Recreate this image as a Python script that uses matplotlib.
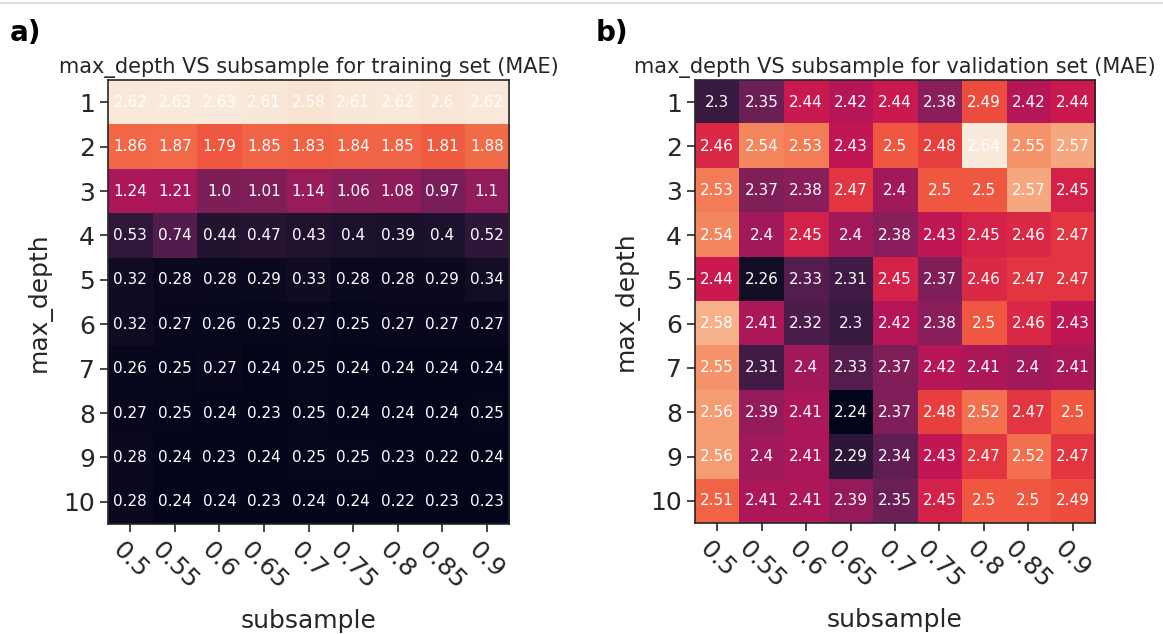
import matplotlib
matplotlib.use("Agg")
import matplotlib.pyplot as plt
from matplotlib.lines import Line2D
import numpy as np

try:
    import seaborn as sns
    CMAP = sns.color_palette("rocket", as_cmap=True)
except ImportError:
    CMAP = "magma"

plt.rcParams["font.family"] = ["DejaVu Sans"]

max_depth = [1, 2, 3, 4, 5, 6, 7, 8, 9, 10]
subsample = [0.5, 0.55, 0.6, 0.65, 0.7, 0.75, 0.8, 0.85, 0.9]

# MAE en entrenamiento (filas: max_depth, columnas: subsample)
mae_train = [
    [2.62, 2.63, 2.63, 2.61, 2.58, 2.61, 2.62, 2.6, 2.62],
    [1.86, 1.87, 1.79, 1.85, 1.83, 1.84, 1.85, 1.81, 1.88],
    [1.24, 1.21, 1.0, 1.01, 1.14, 1.06, 1.08, 0.97, 1.1],
    [0.53, 0.74, 0.44, 0.47, 0.43, 0.4, 0.39, 0.4, 0.52],
    [0.32, 0.28, 0.28, 0.29, 0.33, 0.28, 0.28, 0.29, 0.34],
    [0.32, 0.27, 0.26, 0.25, 0.27, 0.25, 0.27, 0.27, 0.27],
    [0.26, 0.25, 0.27, 0.24, 0.25, 0.24, 0.24, 0.24, 0.24],
    [0.27, 0.25, 0.24, 0.23, 0.25, 0.24, 0.24, 0.24, 0.25],
    [0.28, 0.24, 0.23, 0.24, 0.25, 0.25, 0.23, 0.22, 0.24],
    [0.28, 0.24, 0.24, 0.23, 0.24, 0.24, 0.22, 0.23, 0.23],
]

# MAE en validación
mae_val = [
    [2.3, 2.35, 2.44, 2.42, 2.44, 2.38, 2.49, 2.42, 2.44],
    [2.46, 2.54, 2.53, 2.43, 2.5, 2.48, 2.64, 2.55, 2.57],
    [2.53, 2.37, 2.38, 2.47, 2.4, 2.5, 2.5, 2.57, 2.45],
    [2.54, 2.4, 2.45, 2.4, 2.38, 2.43, 2.45, 2.46, 2.47],
    [2.44, 2.26, 2.33, 2.31, 2.45, 2.37, 2.46, 2.47, 2.47],
    [2.58, 2.41, 2.32, 2.3, 2.42, 2.38, 2.5, 2.46, 2.43],
    [2.55, 2.31, 2.4, 2.33, 2.37, 2.42, 2.41, 2.4, 2.41],
    [2.56, 2.39, 2.41, 2.24, 2.37, 2.48, 2.52, 2.47, 2.5],
    [2.56, 2.4, 2.41, 2.29, 2.34, 2.43, 2.47, 2.52, 2.47],
    [2.51, 2.41, 2.41, 2.39, 2.35, 2.45, 2.5, 2.5, 2.49],
]

TEXT = "#262626"


def draw_heatmap(ax, values, title):
    data = np.array(values, dtype=float)
    ax.imshow(data, cmap=CMAP, aspect="auto", interpolation="nearest")
    for i in range(data.shape[0]):
        for j in range(data.shape[1]):
            ax.text(j, i, str(values[i][j]), ha="center", va="center",
                    color="white", fontsize=11)
    ax.set_xticks(range(len(subsample)))
    ax.set_xticklabels([str(s) for s in subsample], rotation=-45)
    ax.set_yticks(range(len(max_depth)))
    ax.set_yticklabels([str(d) for d in max_depth])
    ax.tick_params(axis="both", labelsize=18, length=6, width=1.2,
                   color=TEXT, labelcolor=TEXT)
    for sp in ax.spines.values():
        sp.set_color(TEXT)
        sp.set_linewidth(1.2)
    ax.set_xlabel("subsample", fontsize=18, color=TEXT, labelpad=11)
    ax.set_ylabel("max_depth", fontsize=18, color=TEXT, labelpad=8)
    ax.set_title(title, fontsize=15, color=TEXT, pad=5)


fig = plt.figure(figsize=(11.63, 6.34), dpi=100)
ax1 = fig.add_axes([0.0929, 0.1735, 0.3448, 0.7003])
ax2 = fig.add_axes([0.5976, 0.1750, 0.3440, 0.6988])

draw_heatmap(ax1, mae_train, "max_depth VS subsample for training set (MAE)")
draw_heatmap(ax2, mae_val, "max_depth VS subsample for validation set (MAE)")

fig.text(0.008, 0.935, "a)", fontsize=20, fontweight="bold", color="black")
fig.text(0.512, 0.935, "b)", fontsize=20, fontweight="bold", color="black")

# línea fina gris en el borde superior
fig.add_artist(Line2D([0, 1], [0.996, 0.996], color="#d9d9d9", lw=1.2,
                      transform=fig.transFigure))

fig.savefig("out.png", dpi=100)
plt.close(fig)
